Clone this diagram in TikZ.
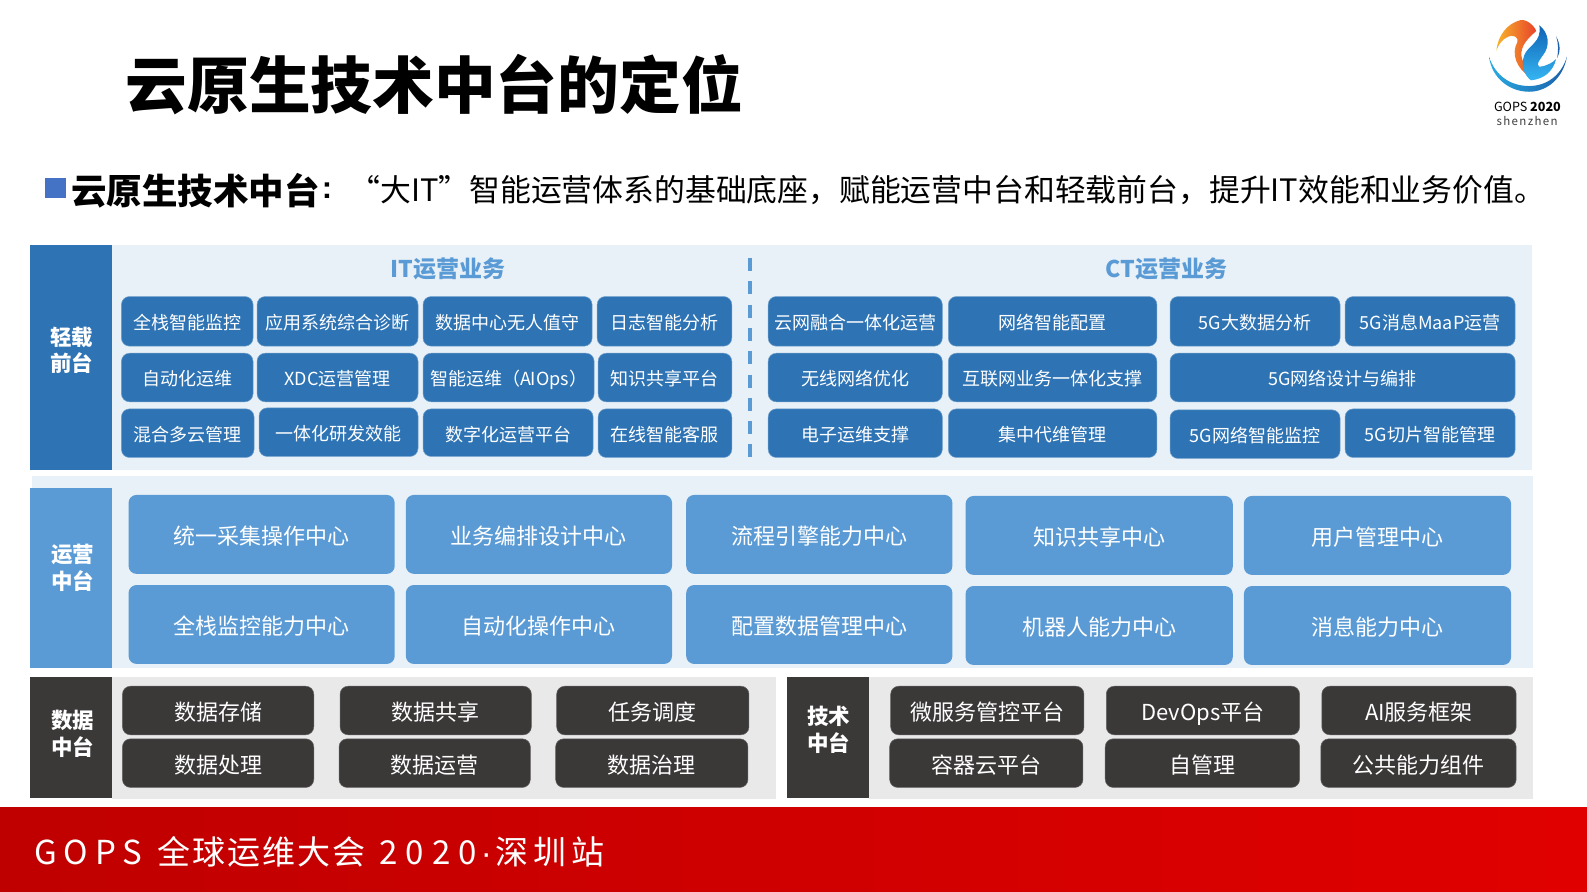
\documentclass[tikz,border=0pt]{standalone}
\usepackage{fontspec}
\setmainfont{Noto Sans CJK SC}
\newfontfamily\dotfont{Liberation Sans}
\usetikzlibrary{calc}
\definecolor{deepblue}{HTML}{2E74B5}
\definecolor{midblue}{HTML}{5B9BD5}
\definecolor{panelblue}{HTML}{E9F1F8}
\definecolor{panelgray}{HTML}{E9E9E9}
\definecolor{darkbox}{HTML}{3B3838}
\definecolor{bulletblue}{HTML}{4472C4}
\definecolor{logoA}{HTML}{29ABE2}
\definecolor{logoB}{HTML}{1B5FAA}
\definecolor{logoC}{HTML}{F7B32B}
\definecolor{logoD}{HTML}{E8432A}
\definecolor{logoE}{HTML}{0F63B5}
\definecolor{logoF}{HTML}{35B5F2}
\newcommand{\fsz}[1]{\fontsize{#1}{#1}\selectfont}
\newcommand{\bx}[7]{%
  \pgfmathsetmacro{\bw}{(#4-#2)*1.01212}%
  \pgfmathsetmacro{\bh}{(#5-#3)*1.01212}%
  \node[#6,minimum width=\bw pt,minimum height=\bh pt] (#1) at ({(#2+#4)/2},{(#3+#5)/2}) {\raisebox{\dimexpr-0.38em-1.5pt}[0pt][0pt]{#7}};}
\tikzset{
  boxbase/.style={inner sep=0pt,outer sep=0pt,align=center,text=white},
  itbox/.style={boxbase,fill=deepblue,draw=deepblue!70!white,line width=.5pt,rounded corners=8pt,font=\fsz{18}},
  opsbox/.style={boxbase,fill=midblue,rounded corners=8pt,font=\fsz{22}},
  darkitem/.style={boxbase,fill=darkbox,draw=darkbox!80!white,line width=.5pt,rounded corners=8pt,font=\fsz{22}},
  sidebar/.style={inner sep=0pt,outer sep=0pt},
  sidetext/.style={inner sep=0pt,align=center,text=white,font=\bfseries\fsz{21.5}},
  panel/.style={inner sep=0pt,outer sep=0pt},
  sechead/.style={inner sep=0pt,text=midblue,font=\bfseries\fsz{23}},
}
\begin{document}
\begin{tikzpicture}[x=1.01212pt,y=-1.01212pt]
\useasboundingbox (0,0) rectangle (1568,881.3);
\fill[white] (0,0) rectangle (1568,881.3);
% title
\node[inner sep=0pt,anchor=west,font=\bfseries\fsz{61.7},text=black] (title) at (124,84) {云原生技术中台的定位};
\bx{bullet}{44}{176}{65}{196}{panel,fill=bulletblue}{}
\node[inner sep=0pt,anchor=west,font=\bfseries\fsz{35.5}] (subh) at (70,188) {云原生技术中台};
\node[inner sep=0pt,font=\dotfont\bfseries\fsz{31}] (subc) at (323,188) {:};
\node[inner sep=0pt,anchor=west,font=\fsz{30.83}] (subt) at (345,188) {“大IT”智能运营体系的基础底座，赋能运营中台和轻载前台，提升IT效能和业务价值。};
% front
\bx{fp}{111}{242}{1514}{464}{panel,fill=panelblue}{}
\bx{fs}{30}{242}{111}{464}{sidebar,fill=deepblue}{}
\node[sidetext] (fst) at (71,346) {轻载\\[5pt]前台};
\node[sechead] (ith) at (442.5,266) {IT运营业务};
\node[sechead] (cth) at (1152.5,266) {CT运营业务};
\coordinate (dashtop) at (741,255);
\coordinate (dashbot) at (741,452);
\draw[midblue,line width=3.2pt,dash pattern=on 13pt off 10.3pt] (dashtop) -- (dashbot);
\bx{a1}{120}{293}{250}{342}{itbox}{全栈智能监控}
\bx{a2}{254}{293}{413}{342}{itbox}{应用系统综合诊断}
\bx{a3}{418}{293}{585}{342}{itbox}{数据中心无人值守}
\bx{a4}{590}{293}{723}{342}{itbox}{日志智能分析}
\bx{b1}{120}{349}{250}{397}{itbox}{自动化运维}
\bx{b2}{254}{349}{413}{397}{itbox}{XDC运营管理}
\bx{b3}{418}{349}{587}{397}{itbox}{智能运维（AIOps）}
\bx{b4}{591}{349}{723}{397}{itbox}{知识共享平台}
\bx{c1}{120}{404}{251}{452}{itbox}{混合多云管理}
\bx{c2}{256}{403}{413}{451}{itbox}{一体化研发效能}
\bx{c3}{418}{404}{586}{451}{itbox}{数字化运营平台}
\bx{c4}{591}{404}{723}{452}{itbox}{在线智能客服}
\bx{d1}{759}{293}{931}{342}{itbox}{云网融合一体化运营}
\bx{d2}{937}{293}{1143}{342}{itbox}{网络智能配置}
\bx{d3}{1156}{293}{1324}{342}{itbox}{5G大数据分析}
\bx{d4}{1329}{293}{1497}{342}{itbox}{5G消息MaaP运营}
\bx{e1}{759}{349}{931}{397}{itbox}{无线网络优化}
\bx{e2}{937}{349}{1143}{397}{itbox}{互联网业务一体化支撑}
\bx{e3}{1156}{349}{1497}{397}{itbox}{5G网络设计与编排}
\bx{f1}{759}{404}{931}{452}{itbox}{电子运维支撑}
\bx{f2}{937}{404}{1143}{452}{itbox}{集中代维管理}
\bx{f3}{1156}{405}{1324}{453}{itbox}{5G网络智能监控}
\bx{f4}{1329}{404}{1497}{452}{itbox}{5G切片智能管理}
% ops
\bx{op}{32}{470}{1515}{660}{panel,fill=panelblue}{}
\bx{os}{30}{482}{111}{660}{sidebar,fill=midblue}{}
\node[sidetext] (ost) at (72,561) {运营\\[5pt]中台};
\bx{g1}{127}{489}{390}{567}{opsbox}{统一采集操作中心}
\bx{g2}{401}{489}{664}{567}{opsbox}{业务编排设计中心}
\bx{g3}{678}{489}{941}{567}{opsbox}{流程引擎能力中心}
\bx{g4}{954}{490}{1218}{568}{opsbox}{知识共享中心}
\bx{g5}{1229}{490}{1493}{568}{opsbox}{用户管理中心}
\bx{h1}{127}{578}{390}{656}{opsbox}{全栈监控能力中心}
\bx{h2}{401}{578}{664}{656}{opsbox}{自动化操作中心}
\bx{h3}{678}{578}{941}{656}{opsbox}{配置数据管理中心}
\bx{h4}{954}{579}{1218}{657}{opsbox}{机器人能力中心}
\bx{h5}{1229}{579}{1493}{657}{opsbox}{消息能力中心}
% data
\bx{dp}{111}{669}{767}{789}{panel,fill=panelgray}{}
\bx{ds}{30}{669}{111}{788}{sidebar,fill=darkbox}{}
\node[sidetext] (dst) at (72,725) {数据\\[5pt]中台};
\bx{i1}{121}{678}{310}{726}{darkitem}{数据存储}
\bx{i2}{336}{678}{525}{726}{darkitem}{数据共享}
\bx{i3}{550}{678}{740}{726}{darkitem}{任务调度}
\bx{j1}{121}{730}{310}{778}{darkitem}{数据处理}
\bx{j2}{335}{730}{524}{778}{darkitem}{数据运营}
\bx{j3}{549}{730}{739}{778}{darkitem}{数据治理}
% tech
\bx{tp}{859}{669}{1515}{789}{panel,fill=panelgray}{}
\bx{ts}{778}{669}{859}{788}{sidebar,fill=darkbox}{}
\node[sidetext] (tst) at (819,721) {技术\\[5pt]中台};
\bx{k1}{880}{678}{1071}{726}{darkitem}{微服务管控平台}
\bx{k2}{1093}{678}{1284}{726}{darkitem}{DevOps平台}
\bx{k3}{1306}{678}{1498}{726}{darkitem}{AI服务框架}
\bx{l1}{879}{730}{1070}{778}{darkitem}{容器云平台}
\bx{l2}{1092}{730}{1284}{778}{darkitem}{自管理}
\bx{l3}{1305}{730}{1498}{778}{darkitem}{公共能力组件}
% footer
\shade[left color=red!75!black,right color=red!88!black] (0,798) rectangle (1568,881.3);
\node[inner sep=0pt,anchor=west,text=white,font=\fsz{33}] (foot) at (34,842) {{\addfontfeatures{LetterSpace=20}GOPS}\hspace{16pt}{\addfontfeatures{LetterSpace=5.8}全球运维大会}\hspace{14pt}{\addfontfeatures{LetterSpace=24.5}2020}\hspace{4pt}{\dotfont ·}\hspace{4pt}{\addfontfeatures{LetterSpace=14}深圳站}};
% logo
\begin{scope}[shift={(1442.5,0)},x=0.33737pt,y=-0.33737pt]
\shade[left color=logoA,right color=logoB]
  (86,168) .. controls (95,235) and (150,272) .. (205,272)
  .. controls (255,272) and (305,235) .. (317,168)
  .. controls (300,225) and (255,255) .. (205,255)
  .. controls (150,255) and (105,225) .. (86,168) -- cycle;
\shade[left color=logoC,right color=logoD]
  (108,150) .. controls (112,105) and (140,70) .. (178,60)
  .. controls (195,55) and (220,75) .. (226,92)
  .. controls (200,115) and (180,135) .. (182,165)
  .. controls (185,190) and (205,205) .. (205,225)
  .. controls (170,205) and (150,160) .. (170,125)
  .. controls (175,112) and (160,100) .. (140,110)
  .. controls (125,118) and (115,130) .. (108,150) -- cycle;
\shade[top color=logoE,bottom color=logoF]
  (235,75) .. controls (262,95) and (270,135) .. (245,165)
  .. controls (235,180) and (225,190) .. (235,198)
  .. controls (260,195) and (275,185) .. (285,175)
  .. controls (275,215) and (245,235) .. (210,238)
  .. controls (190,222) and (180,195) .. (190,165)
  .. controls (200,135) and (245,125) .. (235,75) -- cycle;
\fill[logoB]
  (285,108) .. controls (298,130) and (298,155) .. (288,172)
  .. controls (292,150) and (292,130) .. (285,108) -- cycle;
\node[inner sep=0pt,font=\fsz{12.6},text=black] (lg1) at (200,316) {GOPS \textbf{2020}};
\node[inner sep=0pt,font=\fsz{11.5},text=black!75] (lg2) at (199,358) {\addfontfeatures{LetterSpace=12}shenzhen};
\end{scope}
\end{tikzpicture}
\end{document}
